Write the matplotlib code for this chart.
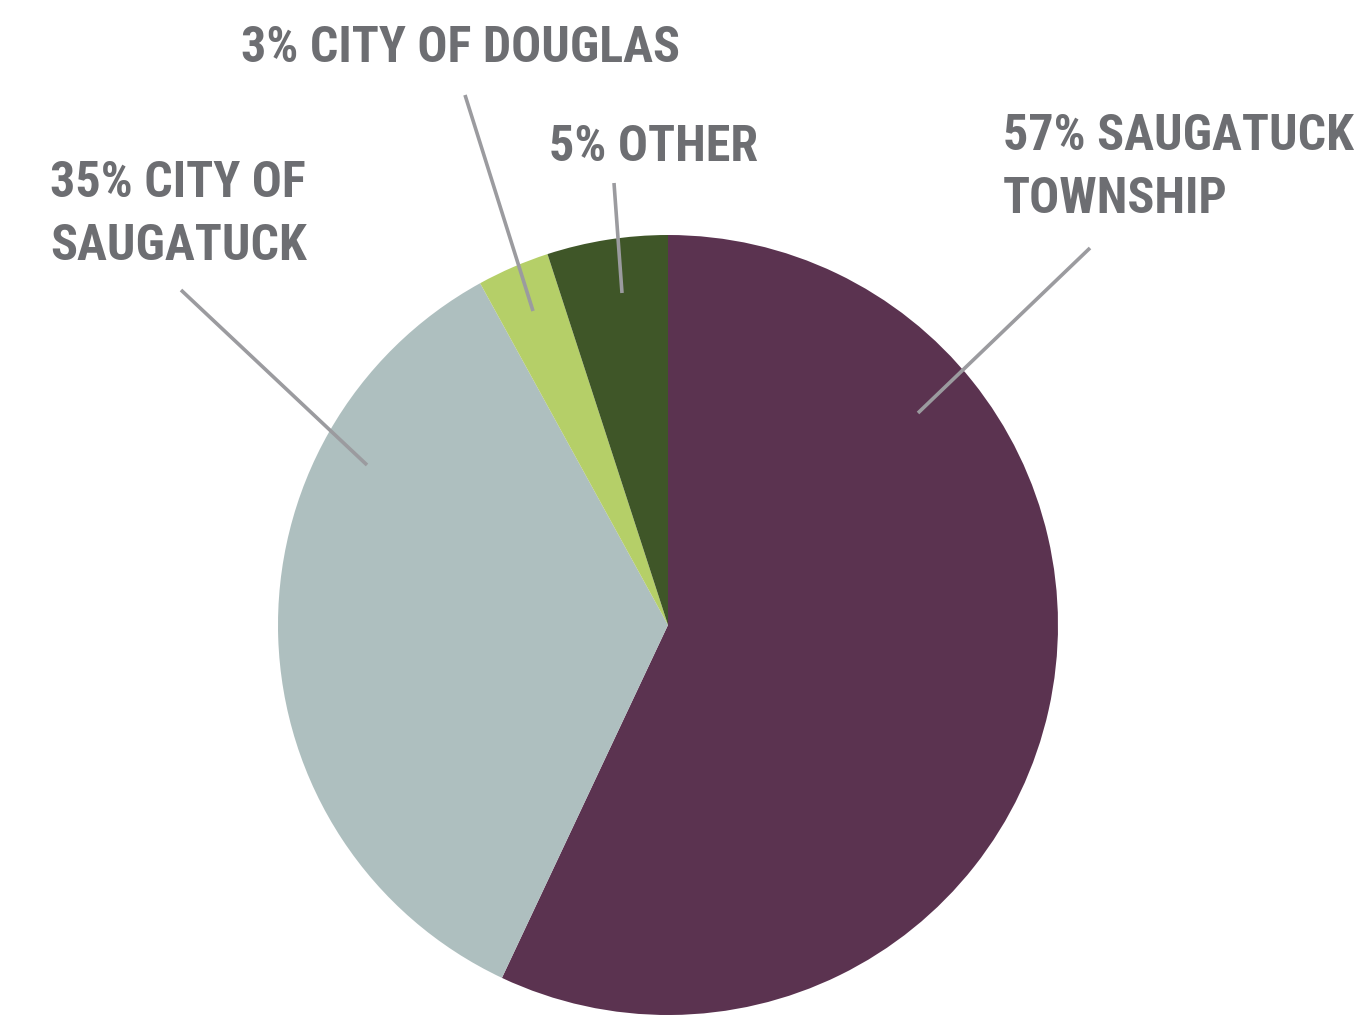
import matplotlib
matplotlib.use("Agg")
import matplotlib.pyplot as plt

# shares, clockwise from 12 o'clock
labels = ["57% SAUGATUCK\nTOWNSHIP", "35% CITY OF\nSAUGATUCK", "3% CITY OF DOUGLAS", "5% OTHER"]
shares = [57, 35, 3, 5]
colors = ["#5B3350", "#AEBFBF", "#B5CF68", "#3F5628"]

# label placement in pixel coords (top-left of text) and leader lines
text_pos = [(1003, 113), (50, 160), (241, 25), (549, 124)]
leaders = [((918, 413), (1090, 248)),
           ((367, 465), (181, 290)),
           ((533, 311), (465, 95)),
           ((622, 293), (614, 183))]

FONTS = ["Roboto Condensed", "Barlow Condensed", "Archivo Narrow", "PT Sans Narrow",
         "Oswald", "DejaVu Sans"]

W, H = 1369, 1016
fig = plt.figure(figsize=(W / 100, H / 100), dpi=100)
ax = fig.add_axes([0, 0, 1, 1])

ax.pie(shares, colors=colors, startangle=90, counterclock=False,
       center=(668, H - 625), radius=390, frame=True,
       wedgeprops=dict(linewidth=0))
ax.set_xlim(0, W)
ax.set_ylim(0, H)
ax.axis("off")

for (p0, p1) in leaders:
    ax.plot([p0[0], p1[0]], [H - p0[1], H - p1[1]], color="#9B9B9F", lw=2.6,
            solid_capstyle="butt")

for lab, (x, y) in zip(labels, text_pos):
    ax.text(x, H - y, lab, ha="left", va="top", fontsize=36,
            family=FONTS, weight="bold", color="#6D6E72",
            linespacing=1.42)

fig.savefig("out.png", dpi=100)
